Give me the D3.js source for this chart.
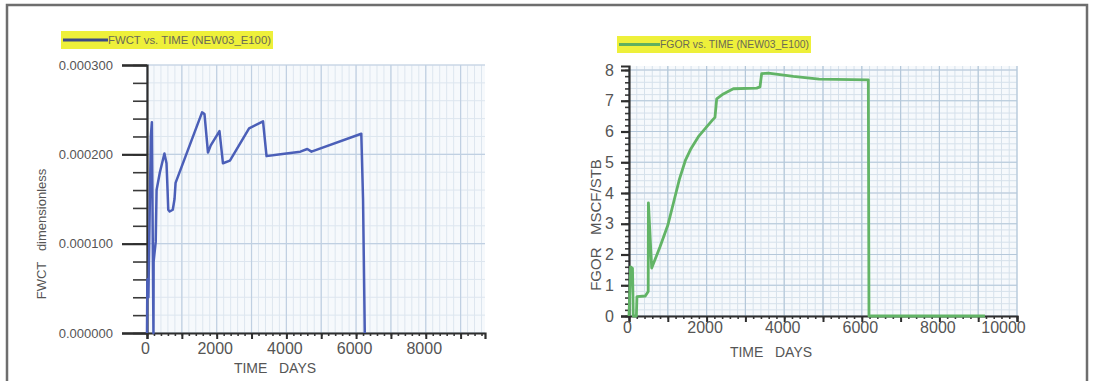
<!DOCTYPE html>
<html>
<head>
<meta charset="utf-8">
<script src="https://cdn.jsdelivr.net/npm/d3@7"></script>
<style>
  body { margin: 0; background: #fff; }
  svg { display: block; font-family: "Liberation Sans", Arial, sans-serif; }
</style>
</head>
<body>
<svg id="chart" width="1093" height="381"></svg>
<script>
// ---- FWCT (field water cut) vs time ----
const fwctTime  = [0, 10, 40, 110, 140, 175, 185, 190, 250, 275, 370, 500, 560, 590, 610, 650, 740, 790, 820,
                   1580, 1650, 1750, 1830, 2080, 2180, 2380, 2930, 3330, 3430, 3830, 4400, 4600, 4720, 6150, 6200, 6250];
const fwctValue = [0, 0.00006, 0.00004, 0.00022, 0.000236, 0.00005, 0, 0.00008, 0.000102, 0.00016, 0.00018, 0.000201,
                   0.00019, 0.00016, 0.000138, 0.000136, 0.000138, 0.00015, 0.000168,
                   0.000247, 0.000245, 0.000202, 0.00021, 0.000226, 0.00019, 0.000193, 0.000229, 0.000237, 0.000198,
                   0.0002, 0.000203, 0.000206, 0.000203, 0.000223, 0.00015, 0];
const fwctTicks      = [0, 0.0001, 0.0002, 0.0003];
const fwctTickLabels = ["0.000000", "0.000100", "0.000200", "0.000300"];
const fwctTimeTicks  = [0, 2000, 4000, 6000, 8000];

// ---- FGOR (field gas-oil ratio) vs time ----
const fgorTime  = [0, 40, 90, 110, 190, 205, 420, 495, 500, 585, 800, 1000, 1150, 1300, 1450, 1600, 1800, 2000, 2150, 2216,
                   2260, 2431, 2689, 3290, 3376, 3419, 3590, 4235, 4900, 6168, 6185, 9175];
const fgorValue = [0, 1.6, 1.55, 0, 0, 0.63, 0.65, 0.8, 3.68, 1.56, 2.25, 2.95, 3.7, 4.45, 5.05, 5.45, 5.85, 6.15, 6.37, 6.46,
                   7.06, 7.22, 7.39, 7.41, 7.45, 7.88, 7.9, 7.79, 7.7, 7.68, 0, 0];
const fgorTicks     = [0, 1, 2, 3, 4, 5, 6, 7, 8];
const fgorTimeTicks = [0, 2000, 4000, 6000, 8000, 10000];

const svg = d3.select("#chart");

// outer figure frame
svg.append("rect").attr("x", 7).attr("y", 5).attr("width", 1080).attr("height", 392)
  .attr("fill", "none").attr("stroke", "#6e6e6e").attr("stroke-width", 2.5);

function drawPanel(p) {
  const g = svg.append("g");
  const x = d3.scaleLinear().domain(p.xDomain).range([p.left, p.right]);
  const y = d3.scaleLinear().domain(p.yDomain).range([p.bottom, p.top]);

  // plot background
  g.append("rect").attr("x", p.left).attr("y", p.top)
    .attr("width", p.right - p.left).attr("height", p.bottom - p.top).attr("fill", "#f6f9fc");

  // grid: minor then major
  const xMinor = d3.range(p.xDomain[0], p.xDomain[1] + 1e-9, p.xMinorStep);
  const xMajor = d3.range(p.xDomain[0], p.xDomain[1] + 1e-9, p.xMajorStep);
  const yMinor = d3.range(0, p.yDomain[1] + 1e-12, p.yMinorStep);
  const yMajor = d3.range(0, p.yDomain[1] + 1e-12, p.yMajorStep);
  const grid = g.append("g");
  grid.selectAll(".vm").data(xMinor).join("line")
    .attr("x1", d => x(d)).attr("x2", d => x(d)).attr("y1", p.top).attr("y2", p.bottom)
    .attr("stroke", p.gridMinor).attr("stroke-width", 1);
  grid.selectAll(".hm").data(yMinor).join("line")
    .attr("y1", d => y(d)).attr("y2", d => y(d)).attr("x1", p.left).attr("x2", p.right)
    .attr("stroke", p.gridMinor).attr("stroke-width", 1);
  grid.selectAll(".vM").data(xMajor).join("line")
    .attr("x1", d => x(d)).attr("x2", d => x(d)).attr("y1", p.top).attr("y2", p.bottom)
    .attr("stroke", p.gridMajor).attr("stroke-width", 1.2);
  grid.selectAll(".hM").data(yMajor).join("line")
    .attr("y1", d => y(d)).attr("y2", d => y(d)).attr("x1", p.left).attr("x2", p.right)
    .attr("stroke", p.gridMajor).attr("stroke-width", 1.2);

  // y axis: minor ticks, then labelled major ticks
  g.append("g").attr("transform", `translate(${p.left},0)`)
    .call(d3.axisLeft(y).tickValues(yMinor).tickSize(p.yMinorLen).tickFormat(""))
    .call(a => a.select(".domain").remove())
    .call(a => a.selectAll("line").attr("stroke", "#3a3a3a").attr("stroke-width", 1.6));
  g.append("g").attr("transform", `translate(${p.left},0)`)
    .call(d3.axisLeft(y).tickValues(p.yTicks).tickSize(p.yMajorLen).tickPadding(p.yPad)
      .tickFormat((d, i) => p.yLabels[i]))
    .call(a => a.select(".domain").attr("stroke", "#2e2e2e").attr("stroke-width", 2.2))
    .call(a => a.selectAll("line").attr("stroke", "#2e2e2e").attr("stroke-width", 2.2))
    .call(a => a.selectAll("text").attr("fill", "#555").attr("font-size", p.yFont)
      .attr("font-family", "'Liberation Sans', Arial, sans-serif"));

  // x axis: minor, 1000-step, labelled
  const xAxisG = (ax) => g.append("g").attr("transform", `translate(0,${p.bottom})`).call(ax);
  xAxisG(d3.axisBottom(x).tickValues(xMinor).tickSize(3).tickFormat(""))
    .call(a => a.select(".domain").remove())
    .call(a => a.selectAll("line").attr("stroke", "#3a3a3a").attr("stroke-width", 1.6));
  xAxisG(d3.axisBottom(x).tickValues(xMajor).tickSize(6).tickFormat(""))
    .call(a => a.select(".domain").attr("stroke", "#2e2e2e").attr("stroke-width", 2.2))
    .call(a => a.selectAll("line").attr("stroke", "#2e2e2e").attr("stroke-width", 2));
  xAxisG(d3.axisBottom(x).tickValues(p.xTicks).tickSize(0).tickPadding(p.xPad).tickFormat(d3.format("d")))
    .call(a => a.select(".domain").remove())
    .call(a => a.selectAll("text").attr("fill", "#555").attr("font-size", 16)
      .attr("font-family", "'Liberation Sans', Arial, sans-serif")
      .attr("dx", d => (d === p.xDomain[1] ? -14 : -2)));

  // axis titles
  g.append("text").attr("x", p.xTitle[0]).attr("y", p.xTitle[1]).attr("text-anchor", "middle")
    .attr("fill", "#555").attr("font-size", 14).attr("xml:space", "preserve").text("TIME   DAYS");
  g.append("text").attr("transform", `translate(${p.yTitle[0]},${p.yTitle[1]}) rotate(-90)`)
    .attr("text-anchor", "middle").attr("dy", "0.35em").attr("fill", "#555")
    .attr("font-size", p.yTitleFont).attr("xml:space", "preserve").text(p.yTitleText);

  // data line
  const pts = p.time.map((t, i) => [t, p.value[i]]);
  g.append("path").datum(pts)
    .attr("d", d3.line().x(d => x(d[0])).y(d => y(d[1])))
    .attr("fill", "none").attr("stroke", p.color).attr("stroke-width", p.lineWidth)
    .attr("stroke-linejoin", "round");

  // legend
  const L = p.legend;
  g.append("rect").attr("x", L.x).attr("y", L.y).attr("width", L.w).attr("height", L.h).attr("fill", "#eef03a");
  g.append("line").attr("x1", L.x + 2).attr("x2", L.x + L.lineW).attr("y1", L.y + L.h / 2).attr("y2", L.y + L.h / 2)
    .attr("stroke", L.lineColor).attr("stroke-width", 3);
  g.append("text").attr("x", L.x + L.lineW).attr("y", L.y + L.h / 2).attr("dy", "0.35em")
    .attr("font-size", 11).attr("fill", "#6a6a55").attr("textLength", L.w - L.lineW - 2)
    .attr("lengthAdjust", "spacingAndGlyphs").text(L.text);
}

drawPanel({
  time: fwctTime, value: fwctValue, color: "#4b5fb8", lineWidth: 2.5,
  left: 147, right: 485, top: 65, bottom: 333,
  xDomain: [0, 9700], yDomain: [0, 0.0003],
  xMinorStep: 200, xMajorStep: 1000, yMinorStep: 0.00002, yMajorStep: 0.0001,
  gridMinor: "#dde6ef", gridMajor: "#c0d0e2",
  yTicks: fwctTicks, yLabels: fwctTickLabels, yMajorLen: 25, yMinorLen: 14, yPad: 9, yFont: 13,
  xTicks: fwctTimeTicks, xPad: 10,
  xTitle: [275, 373], yTitle: [41, 234], yTitleFont: 13, yTitleText: "FWCT   dimensionless",
  legend: { x: 61, y: 31, w: 212, h: 18, lineW: 47, lineColor: "#3d4a86", text: "FWCT vs. TIME (NEW03_E100)" }
});

drawPanel({
  time: fgorTime, value: fgorValue, color: "#62b466", lineWidth: 2.8,
  left: 629, right: 1017, top: 66, bottom: 316,
  xDomain: [0, 10000], yDomain: [0, 8.13],
  xMinorStep: 200, xMajorStep: 1000, yMinorStep: 0.2, yMajorStep: 1,
  gridMinor: "#d6e1eb", gridMajor: "#b5c8da",
  yTicks: fgorTicks, yLabels: fgorTicks.map(String), yMajorLen: 8, yMinorLen: 4, yPad: 7, yFont: 16,
  xTicks: fgorTimeTicks, xPad: 6,
  xTitle: [771, 357], yTitle: [596, 225], yTitleFont: 15, yTitleText: "FGOR   MSCF/STB",
  legend: { x: 617, y: 36, w: 194, h: 17, lineW: 43, lineColor: "#5fb05f", text: "FGOR vs. TIME (NEW03_E100)" }
});
</script>
</body>
</html>
